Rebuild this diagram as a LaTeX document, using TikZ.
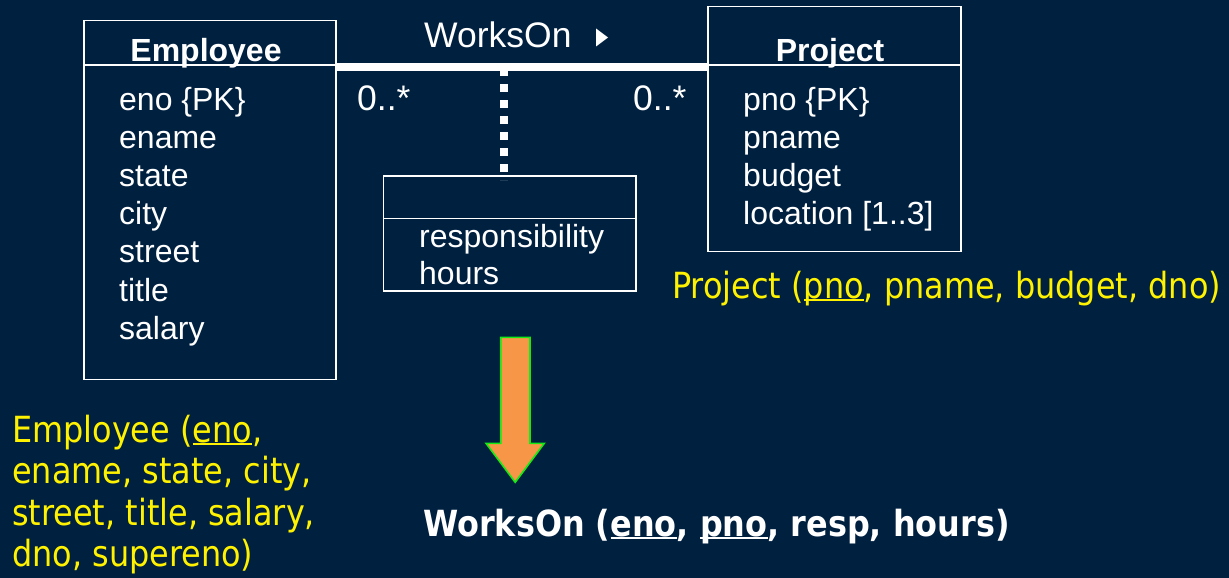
\documentclass[tikz,border=0pt]{standalone}
\usepackage{fontspec}
\setmainfont{Liberation Sans}
\newfontfamily\tah[FakeStretch=0.886]{DejaVu Sans}
\definecolor{bg}{RGB}{0,32,64}
\definecolor{arrowfill}{RGB}{247,150,70}
\definecolor{arrowline}{RGB}{20,235,20}
\newcommand\myul[1]{\setbox0\hbox{#1}\rlap{\rule[-3pt]{\wd0}{2pt}}\box0}
\begin{document}
\begin{tikzpicture}[x=1pt,y=-1pt,
  box/.style={draw=white, line width=1.4pt, inner sep=0pt, outer sep=0pt},
  txt/.style={text=white, inner sep=0pt, anchor=base west, font=\fontsize{32}{38}\selectfont},
  lbl/.style={text=white, inner sep=0pt, anchor=base west, font=\fontsize{35.5}{40}\selectfont},
  hdr/.style={text=white, inner sep=0pt, anchor=base, font=\fontsize{32}{38}\selectfont\bfseries},
  ylw/.style={text=yellow, inner sep=0pt, anchor=base west, font=\tah\fontsize{36}{42}\selectfont},
  res/.style={text=white, inner sep=0pt, anchor=base west, font=\tah\fontsize{36}{42}\selectfont\bfseries},
  rel/.style={draw=white, line width=8pt},
  assoc/.style={draw=white, line width=8pt, dash pattern=on 8pt off 8pt},
  div/.style={draw=white, line width=1.4pt}]
\useasboundingbox (0,0) rectangle (1229,578);
\fill[bg] (0,0) rectangle (1229,578);

% class boxes
\node[box, minimum width=252pt, minimum height=359pt] (emp) at (210,200) {};
\node[box, minimum width=253pt, minimum height=245pt] (proj) at (834.5,129) {};
\node[box, minimum width=252.5pt, minimum height=115pt] (ac) at (509.75,233.5) {};

% dividers
\draw[div] (emp.west |- 0,65) -- (emp.east |- 0,65);
\draw[div] (proj.west |- 0,65) -- (proj.east |- 0,65);
\draw[div] (ac.west |- 0,218.5) -- (ac.east |- 0,218.5);

% headers
\node[hdr] (empH) at (206,62) {Employee};
\node[hdr] (projH) at (830,62) {Project};

% attributes
\node[txt] (e1) at (119,110.5) {eno \{PK\}};
\node[txt] (e2) at (119,148.6) {ename};
\node[txt] (e3) at (119,186.7) {state};
\node[txt] (e4) at (119,224.8) {city};
\node[txt] (e5) at (119,262.9) {street};
\node[txt] (e6) at (119,301) {title};
\node[txt] (e7) at (119,339.1) {salary};

\node[txt] (p1) at (743,110.5) {pno \{PK\}};
\node[txt] (p2) at (743,148.6) {pname};
\node[txt] (p3) at (743,186.7) {budget};
\node[txt] (p4) at (743,224.8) {location [1..3]};

\node[txt] (a1) at (419,247) {responsibility};
\node[txt] (a2) at (419,284.5) {hours};

% association
\draw[rel] (emp.east |- 0,67) -- (proj.west |- 0,67);
\coordinate (dotTop) at (504,68);
\coordinate (dotBot) at (ac.north -| dotTop);
\draw[assoc] (dotTop) -- ([yshift=-4pt]dotBot);
\node[lbl] (wo) at (424,48) {WorksOn};
\fill[white] (596,28.5) -- (608,37.5) -- (596,46.5) -- cycle;
\node[lbl] (m1) at (357,110.5) {0..*};
\node[lbl] (m2) at (633,110.5) {0..*};

% relational schemas
\node[ylw] (y1) at (12,442) {Employee (\myul{eno},};
\node[ylw] (y2) at (12,483.5) {ename, state, city,};
\node[ylw] (y3) at (12,525) {street, title, salary,};
\node[ylw] (y4) at (12,566.5) {dno, supereno)};
\node[ylw] (py) at (672,298) {Project (\myul{pno}, pname, budget, dno)};
\node[res] (wy) at (423,536) {WorksOn (\myul{eno}, \myul{pno}, resp, hours)};

% mapping arrow
\draw[arrowline, fill=arrowfill, line width=1.6pt, line join=miter]
  (500.7,337.3) -- (530,337.3) -- (530,443.3) -- (544.3,443.3) -- (515.2,482.3)
  -- (486,443.3) -- (500.7,443.3) -- cycle;
\end{tikzpicture}
\end{document}
